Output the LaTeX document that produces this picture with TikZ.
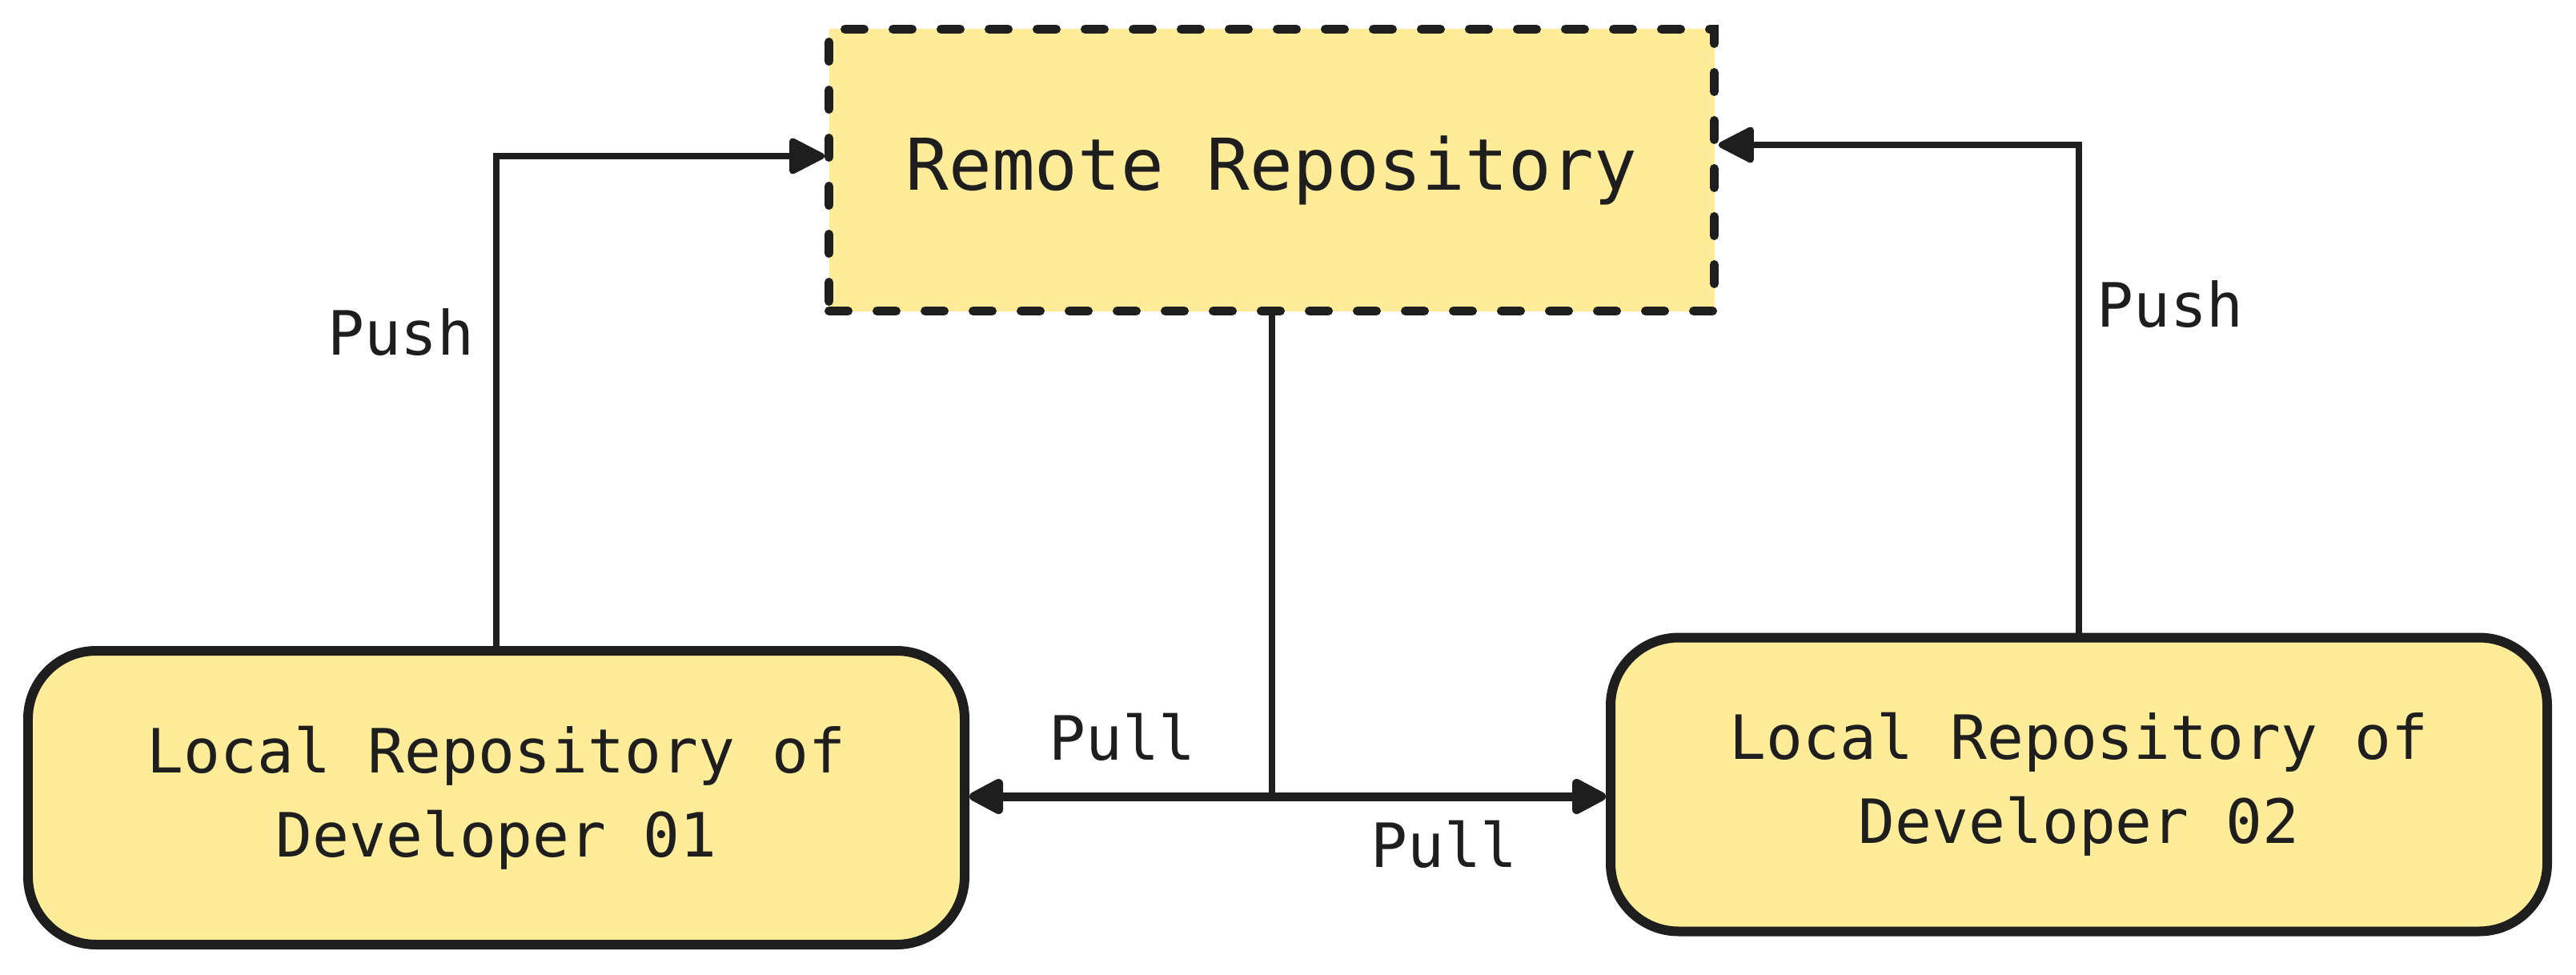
\documentclass[tikz,border=0pt]{standalone}
\usepackage{fontspec}
\setmonofont{DejaVu Sans Mono}
\usetikzlibrary{arrows.meta}
\definecolor{boxfill}{HTML}{FFEC99}
\definecolor{ink}{HTML}{1E1E1E}

\begin{document}
\begin{tikzpicture}[
        every node/.style={text=ink},
        repo/.style={draw=ink, fill=boxfill, line width=0.12cm, rounded corners=0.85cm,
            minimum width=11.70cm, minimum height=3.67cm, align=center,
            font=\ttfamily\fontsize{21.7}{30}\selectfont},
        remoterepo/.style={draw=ink, fill=boxfill, line width=0.11cm, line cap=round,
            dash pattern=on 0.24cm off 0.36cm, minimum width=11.06cm, minimum height=3.52cm,
            font=\ttfamily\fontsize{25.4}{30}\selectfont},
        link/.style={draw=ink, line width=0.08cm},
        flow/.style={link, -{Triangle[length=0.49cm, width=0.48cm, round]}},
        pullflow/.style={flow, line width=0.11cm},
        lbl/.style={font=\ttfamily\fontsize{21.7}{26}\selectfont}
    ]

    \useasboundingbox (0,0) rectangle (32.18,12.17);

    % Repositories
    \node[remoterepo] (remote) at (15.885,10.045) {Remote Repository};
    \node[repo] (dev1) at (6.20,2.205) {Local Repository of\\Developer 01};
    \node[repo] (dev2) at (25.97,2.37) {Local Repository of\\Developer 02};

    % Bend points
    \coordinate (push1) at (6.20,10.22);
    \coordinate (push2) at (25.97,10.36);
    \coordinate (split) at (15.885,2.22);

    % Push to remote
    \draw[flow] (dev1.north) |- (push1 -| remote.west);
    \draw[flow] (dev2.north) |- (push2 -| remote.east);

    % Pull from remote
    \draw[link] (remote.south) -- (split);
    \draw[pullflow] (split) -- (split -| dev1.east);
    \draw[pullflow] (split) -- (split -| dev2.west);

    % Labels
    \node[lbl] (pushleft) at (5.01,8.02) {Push};
    \node[lbl] (pushright) at (27.11,8.37) {Push};
    \node[lbl] (pullleft) at (14.02,2.96) {Pull};
    \node[lbl] (pullright) at (18.04,1.62) {Pull};

\end{tikzpicture}
\end{document}
